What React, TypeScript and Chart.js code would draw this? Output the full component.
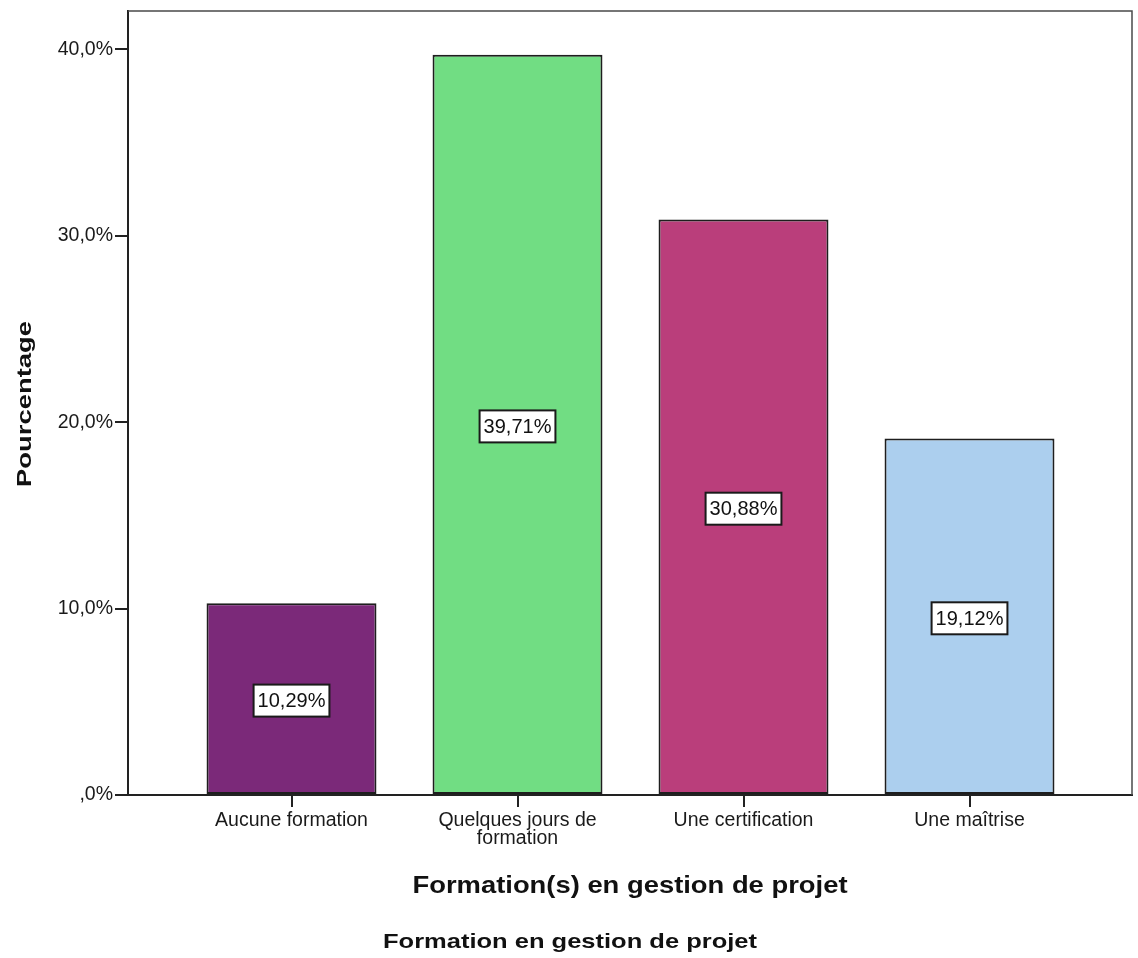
import React, { useEffect, useRef } from "react";
import { Chart, registerables } from "chart.js";

Chart.register(...registerables);

const categories: (string | string[])[] = [
  "Aucune formation",
  ["Quelques jours de", "formation"],
  "Une certification",
  "Une maîtrise",
];
const values: number[] = [10.29, 39.71, 30.88, 19.12];
const valueLabels: string[] = ["10,29%", "39,71%", "30,88%", "19,12%"];
const barColors: string[] = ["#7b2979", "#71dd83", "#ba3e7b", "#accfee"];
const yTicks: number[] = [0, 10, 20, 30, 40];

const xTitle = "Formation(s) en gestion de projet";
const yTitle = "Pourcentage";
const caption = "Formation en gestion de projet";

const FONT = "'Liberation Sans', Arial, sans-serif";

function fitText(
  ctx: CanvasRenderingContext2D,
  text: string,
  cx: number,
  cy: number,
  font: string,
  width: number,
  rotate = 0
) {
  ctx.save();
  ctx.font = font;
  ctx.fillStyle = "#111";
  ctx.textAlign = "center";
  ctx.textBaseline = "middle";
  const w = ctx.measureText(text).width;
  ctx.translate(cx, cy);
  if (rotate) ctx.rotate(rotate);
  ctx.scale(width / w, 1);
  ctx.fillText(text, 0, 0);
  ctx.restore();
}

const decorPlugin = {
  id: "decor",
  afterDatasetsDraw(chart: any) {
    const ctx = chart.ctx as CanvasRenderingContext2D;
    const meta = chart.getDatasetMeta(0);
    meta.data.forEach((bar: any, i: number) => {
      const cx = bar.x;
      const cy = (bar.y + bar.base) / 2 + 2;
      ctx.save();
      ctx.font = `20px ${FONT}`;
      const tw = ctx.measureText(valueLabels[i]).width;
      const bw = tw + 8;
      const bh = 32;
      ctx.fillStyle = "#ffffff";
      ctx.fillRect(cx - bw / 2, cy - bh / 2, bw, bh);
      ctx.strokeStyle = "#1a1a1a";
      ctx.lineWidth = 2;
      ctx.strokeRect(cx - bw / 2, cy - bh / 2, bw, bh);
      ctx.fillStyle = "#111";
      ctx.textAlign = "center";
      ctx.textBaseline = "middle";
      ctx.fillText(valueLabels[i], cx, cy + 1);
      ctx.restore();
    });
  },
  afterDraw(chart: any) {
    const ctx = chart.ctx as CanvasRenderingContext2D;
    const a = chart.chartArea;
    ctx.save();
    ctx.strokeStyle = "#4a4a4a";
    ctx.lineWidth = 1.5;
    ctx.beginPath();
    ctx.moveTo(a.left, a.top);
    ctx.lineTo(a.right, a.top);
    ctx.lineTo(a.right, a.bottom);
    ctx.stroke();
    ctx.restore();

    fitText(ctx, xTitle, (a.left + a.right) / 2, 886, `bold 24px ${FONT}`, 435);
    fitText(ctx, caption, 570, 942, `bold 21px ${FONT}`, 374);
    fitText(ctx, yTitle, 25, 404, `bold 21px ${FONT}`, 166, -Math.PI / 2);
  },
};

export default function App() {
  const ref = useRef<HTMLCanvasElement | null>(null);

  useEffect(() => {
    if (!ref.current) return;
    const chart = new Chart(ref.current, {
      type: "bar",
      data: {
        datasets: [
          {
            data: values.map((v, i) => ({ x: i + 1, y: v })),
            backgroundColor: barColors,
            borderColor: "#1e1e1e",
            borderWidth: 2,
            borderSkipped: false,
            categoryPercentage: 1,
            barPercentage: 0.752,
          },
        ],
      },
      options: {
        responsive: false,
        animation: false,
        layout: { padding: { top: 11, left: 0, right: 6, bottom: 0 } },
        plugins: {
          legend: { display: false },
          tooltip: { enabled: false },
          title: { display: false },
        },
        scales: {
          x: {
            type: "linear",
            min: 0.2765,
            max: 4.719,
            offset: false,
            afterBuildTicks: (scale: any) => {
              scale.ticks = categories.map((_, i) => ({ value: i + 1 }));
            },
            afterFit: (scale: any) => {
              scale.height = 163;
              scale.paddingLeft = 0;
              scale.paddingRight = 0;
            },
            grid: {
              offset: false,
              drawOnChartArea: false,
              drawTicks: true,
              tickLength: 12,
              color: "#222",
              lineWidth: 2,
            },
            border: { display: true, color: "#222", width: 2 },
            ticks: {
              autoSkip: false,
              maxRotation: 0,
              minRotation: 0,
              padding: 5,
              color: "#1a1a1a",
              font: { family: FONT, size: 19.5, lineHeight: "18px" },
              callback: (v: any) => categories[Number(v) - 1] as any,
            },
          },
          y: {
            type: "linear",
            min: 0,
            max: 42.06,
            afterBuildTicks: (scale: any) => {
              scale.ticks = yTicks.map((t) => ({ value: t }));
            },
            afterFit: (scale: any) => {
              scale.width = 128;
              scale.paddingTop = 0;
              scale.paddingBottom = 0;
            },
            grid: {
              drawOnChartArea: false,
              drawTicks: true,
              tickLength: 13,
              color: "#222",
              lineWidth: 2,
            },
            border: { display: true, color: "#222", width: 2 },
            ticks: {
              padding: 2,
              color: "#1a1a1a",
              font: { family: FONT, size: 19.5 },
              callback: (v: any) =>
                Number(v) === 0
                  ? ",0%"
                  : Number(v).toFixed(1).replace(".", ",") + "%",
            },
          },
        },
      },
      plugins: [decorPlugin],
    });
    return () => chart.destroy();
  }, []);

  return (
    <div
      style={{
        position: "fixed",
        left: 0,
        top: 0,
        width: 1138,
        height: 958,
        background: "#fff",
      }}
    >
      <canvas ref={ref} width={1138} height={958} />
    </div>
  );
}
